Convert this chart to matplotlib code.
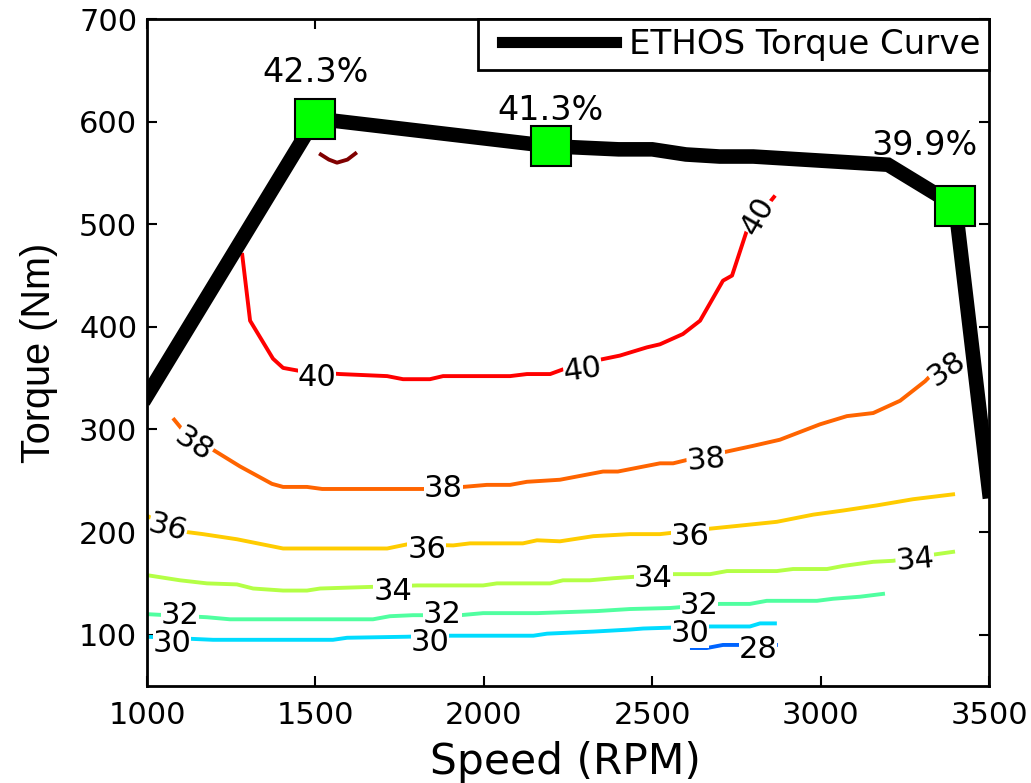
import matplotlib
matplotlib.use("Agg")
import matplotlib.pyplot as plt
from matplotlib.legend_handler import HandlerLine2D

plt.rcParams['font.family'] = ['DejaVu Sans']

# curva de par ETHOS
torque_rpm = [1000, 1500, 2200, 2400, 2500, 2600, 2700, 2800, 3200, 3400, 3500]
torque_nm = [333, 603, 576, 573, 573, 568, 566, 566, 558, 518, 240]

# puntos marcados con su eficiencia
punto_rpm = [1500, 2200, 3400]
punto_nm = [603, 576, 518]
punto_txt = ["42.3%", "41.3%", "39.9%"]
punto_txt_xy = [(1500, 648), (2197, 611), (3310, 577)]

# lineas de iso-eficiencia
c42_x = [1511, 1540, 1564, 1595, 1623]
c42_y = [569, 563, 560, 563, 570]

c40_x = [1282, 1306, 1374, 1404, 1454, 1573, 1713, 1760, 1840, 1879, 2078, 2128, 2197, 2247,
         2345, 2404, 2484, 2523, 2591, 2642, 2710, 2737, 2781, 2865]
c40_y = [472, 406, 369, 360, 357, 354, 352, 349, 349, 352, 352, 354, 354, 360,
         368, 372, 380, 383, 393, 406, 445, 450, 494, 528]

c38_x = [1077, 1137, 1187, 1276, 1371, 1404, 1475, 1520, 1820, 1938, 2009, 2078, 2128, 2226,
         2354, 2398, 2523, 2562, 2612, 2701, 2799, 2879, 2998, 3078, 3156, 3236, 3310, 3331, 3399]
c38_y = [311, 287, 282, 264, 247, 244, 244, 242, 242, 244, 246, 246, 249, 251,
         259, 259, 267, 267, 271, 277, 284, 290, 305, 313, 316, 328, 347, 354, 372]

c36_x = [1000, 1060, 1119, 1166, 1267, 1404, 1713, 1772, 1909, 1959, 2116, 2158, 2226,
         2325, 2434, 2523, 2662, 2752, 2870, 2978, 3067, 3167, 3274, 3399]
c36_y = [216, 205, 200, 198, 193, 184, 184, 188, 187, 189, 189, 192, 191,
         196, 198, 198, 203, 206, 210, 217, 221, 226, 232, 237]

c34_x = [1000, 1098, 1178, 1267, 1315, 1404, 1475, 1514, 1802, 1998, 2039, 2197, 2235,
         2315, 2384, 2562, 2672, 2722, 2870, 2918, 3019, 3067, 3156, 3215, 3334, 3399]
c34_y = [158, 153, 150, 149, 145, 143, 143, 145, 148, 148, 150, 150, 153,
         153, 155, 159, 159, 162, 162, 164, 164, 167, 171, 172, 178, 181]

c32_x = [1000, 1178, 1246, 1671, 1721, 1790, 1930, 1998, 2158, 2247, 2336, 2434, 2553,
         2701, 2790, 2840, 2989, 3037, 3117, 3191]
c32_y = [120, 117, 115, 115, 118, 119, 119, 121, 121, 122, 123, 125, 126,
         130, 130, 133, 133, 135, 137, 140]

c30_x = [1000, 1128, 1196, 1552, 1594, 1772, 1879, 2147, 2188, 2325, 2434, 2473,
         2662, 2790, 2820, 2870]
c30_y = [98, 96, 95, 95, 97, 98, 99, 99, 101, 103, 105, 106,
         108, 108, 111, 111]

c28_x = [2612, 2662, 2710, 2760, 2873]
c28_y = [87, 87, 90, 90, 90]

curvas = [(c42_x, c42_y, '#800000'), (c40_x, c40_y, '#FF0000'), (c38_x, c38_y, '#FF6400'),
          (c36_x, c36_y, '#FFCC00'), (c34_x, c34_y, '#B4FF46'), (c32_x, c32_y, '#50FFA0'),
          (c30_x, c30_y, '#00DCFF'), (c28_x, c28_y, '#0064FF')]

# etiquetas de las curvas: texto, x, y, rotacion
etiquetas = [("40", 1505, 351, 0), ("40", 2294, 358, 8), ("40", 2814, 508, 60),
             ("38", 1137, 285, -33), ("38", 1879, 242, 0), ("38", 2660, 270, 5), ("38", 3375, 359, 35),
             ("36", 1062, 204, -15), ("36", 1831, 183, 0), ("36", 2612, 196, 0),
             ("34", 1730, 142, 0), ("34", 2503, 155, 0), ("34", 3280, 173, 5),
             ("32", 1098, 118.5, 0), ("32", 1876, 119.5, 0), ("32", 2639, 128.5, 0),
             ("30", 1074, 91.5, 0), ("30", 1840, 92.5, 0), ("30", 2612, 101.5, 0),
             ("28", 2814, 86, 0)]


# la linea de la leyenda empieza un poco despues del borde (como en matlab)
class HandlerDesplazado(HandlerLine2D):
    def __init__(self, off, **kw):
        super().__init__(**kw)
        self.off = off

    def create_artists(self, legend, orig_handle, xdescent, ydescent, width, height, fontsize, trans):
        return super().create_artists(legend, orig_handle, xdescent - self.off, ydescent,
                                      width - self.off, height, fontsize, trans)


fig = plt.figure(figsize=(10.31, 7.83), dpi=100)
ax = fig.add_axes([0.1426, 0.1239, 0.8167, 0.8518])

for cx, cy, col in curvas:
    ax.plot(cx, cy, color=col, lw=2.8, zorder=2, solid_capstyle='butt')

for txt, tx, ty, rot in etiquetas:
    ax.text(tx, ty, txt, fontsize=22, ha='center', va='center', rotation=rot, zorder=2.2,
            bbox=dict(facecolor='white', edgecolor='none', pad=0))

linea, = ax.plot(torque_rpm, torque_nm, color='black', lw=10.5, zorder=4, label='ETHOS Torque Curve',
                 solid_joinstyle='miter')
ax.plot(punto_rpm, punto_nm, ls='none', marker='s', ms=29, mfc='#00FF00', mec='black',
        mew=1.5, zorder=5)
for txt, (tx, ty) in zip(punto_txt, punto_txt_xy):
    ax.text(tx, ty, txt, fontsize=24, ha='center', va='center', zorder=6)

ax.set_xlim(1000, 3500)
ax.set_ylim(50, 700)
ax.set_xticks([1000, 1500, 2000, 2500, 3000, 3500])
ax.set_yticks([100, 200, 300, 400, 500, 600, 700])
ax.tick_params(direction='in', length=7, width=1.5, labelsize=22, top=True, right=True)
ax.tick_params(axis='x', pad=11)
ax.tick_params(axis='y', pad=7)
for s in ax.spines.values():
    s.set_linewidth(2)
ax.set_xlabel("Speed (RPM)", fontsize=30.5)
ax.xaxis.set_label_coords(0.497, -0.083)
ax.set_ylabel("Torque (Nm)", fontsize=28.5, family='Liberation Sans')
ax.yaxis.set_label_coords(-0.106, 0.5)

leg = ax.legend(loc='upper right', fontsize=24.5, borderaxespad=0, fancybox=False, framealpha=1,
                handlelength=3.8, handletextpad=0.38, borderpad=0.26,
                handler_map={linea: HandlerDesplazado(11)})
leg.get_frame().set_edgecolor('black')
leg.get_frame().set_linewidth(2)
leg.get_lines()[0].set_linewidth(8)

fig.savefig("out.png", dpi=100)
